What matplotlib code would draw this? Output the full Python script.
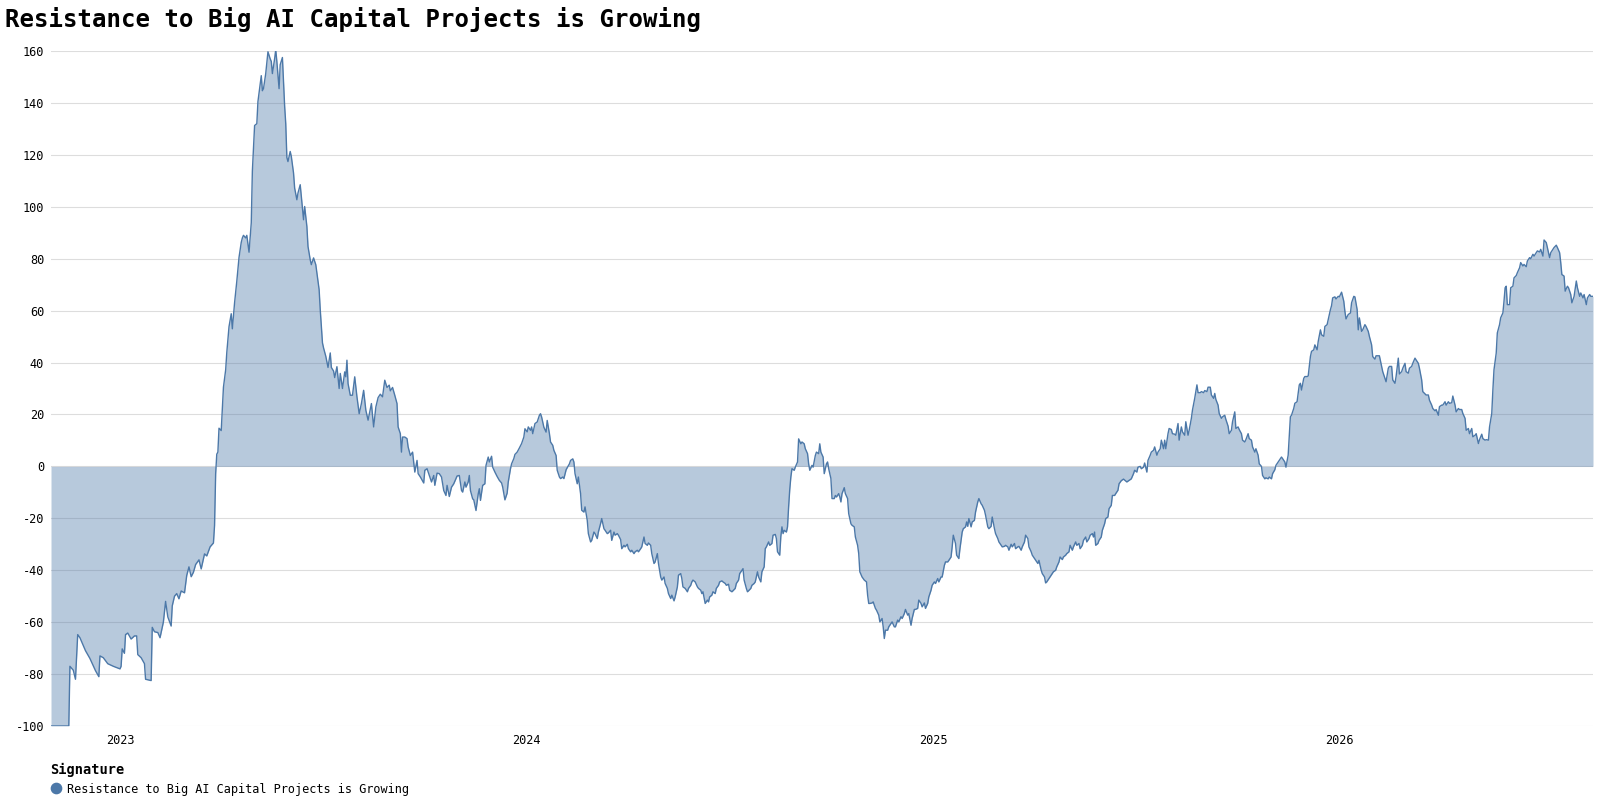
import matplotlib
matplotlib.use("Agg")
import matplotlib.pyplot as plt
from matplotlib.lines import Line2D
import numpy as np
import pandas as pd

# ---------------- data ----------------
title = "Resistance to Big AI Capital Projects is Growing"
series_name = "Resistance to Big AI Capital Projects is Growing"
legend_title = "Signature"
start_date = "2022-10-31"          # day 0 of the series
last_day = 1386                    # right edge of the time axis (days after start)
year_ticks = ["2023-01-01", "2024-01-01", "2025-01-01", "2026-01-01"]
year_labels = ["2023", "2024", "2025", "2026"]
y_ticks = [-100, -80, -60, -40, -20, 0, 20, 40, 60, 80, 100, 120, 140, 160]

# (days after start_date, value)
points_2022_2023a = [
    (0, -100), (16, -100), (17, -77), (20, -78.5), (22, -82), (24, -64.8), (26, -66), (31, -71),
    (35, -74), (40, -78.7), (43, -81), (44, -73), (47, -73.7), (51, -76), (56, -77), (62, -78),
    (63, -77), (64, -70.3), (66, -72), (67, -64.8), (69, -64.2), (72, -66.5), (75, -65.3),
    (77, -65.3), (78, -72.5), (81, -73.7), (84, -76), (85, -82), (90, -82.5), (91, -62),
    (93, -63.7), (96, -64), (98, -66), (101, -60), (103, -52), (105, -58), (108, -61.5),
    (109, -53.7), (111, -50), (113, -49), (115, -51), (117, -48), (120, -48.7), (122, -42),
    (124, -38.7), (126, -42.5), (128, -40.8), (130, -37.8), (133, -36), (135, -39.5),
    (138, -33.7), (140, -34.5), (143, -31), (146, -29.5), (147, -22.8), (148, -2.8), (149, 4.7),
    (150, 5.5), (151, 14.7), (153, 13.8), (155, 30.5), (157, 37.2), (158, 43.8), (160, 53.8),
    (162, 58.8), (163, 53), (165, 63), (167, 71.3), (169, 80.5), (171, 86.3), (172, 88),
    (173, 89), (175, 88), (176, 89), (178, 82.5), (180, 93.8), (181, 113.8), (183, 131.3),
    (185, 132), (186, 140.5), (188, 147), (189, 150.5), (190, 144.7), (191, 145.5), (193, 151.3),
    (195, 159.7), (197, 157), (198, 156), (199, 151.3), (201, 157), (202, 160.5), (203, 156),
    (205, 145.5), (206, 154.7), (208, 157.5), (210, 138.8), (211, 132), (212, 119), (213, 117.4),
    (215, 121.3), (216, 119.4), (218, 113), (219, 107.2), (221, 102.7), (222, 105.3),
    (224, 108.5), (225, 104), (227, 95), (228, 100.1), (230, 92.4), (231, 84.7), (233, 79.6),
    (234, 77.7), (236, 80.3), (237, 79), (238, 77.7), (239, 74.5), (241, 68.1), (242, 60.4),
    (244, 47.6), (245, 45.6), (247, 42.4), (249, 38.1), (251, 43.7), (252, 38.1), (254, 36.7),
]

points_2023b = [
    (255, 34.2), (257, 38.4), (259, 30), (260, 35.8), (262, 30), (264, 36.4), (265, 34.5),
    (266, 40.9), (267, 31.9), (269, 27.4), (271, 27.4), (273, 34.5), (275, 26.8), (277, 20.3),
    (279, 24.2), (281, 29.3), (283, 21.6), (285, 17.8), (288, 24.2), (290, 15.2), (292, 22.9),
    (294, 26.5), (296, 27.8), (298, 26.8), (300, 33.2), (302, 30.4), (304, 31.3), (305, 29.1),
    (307, 30.4), (309, 27.4), (311, 24.2), (312, 15.2), (314, 12.6), (315, 5.5), (316, 11.3),
    (318, 11.3), (320, 10.7), (321, 7.5), (323, 4.2), (325, 5.5), (327, -2.2), (329, 2.3),
    (330, -2.8), (332, -4.1), (335, -6.4), (336, -1.5), (338, -0.9), (341, -4.8), (342, -6),
    (344, -3.5), (345, -7.3), (347, -2.6), (349, -2.8), (351, -4.1), (353, -9.3), (355, -11.2),
    (356, -7.3), (358, -11.6), (360, -8), (362, -6.7), (365, -3.7), (367, -3.5), (369, -9.3),
    (370, -9.9), (372, -6), (373, -8), (375, -6), (376, -3.5), (377, -9.3), (379, -12.5),
    (380, -12.9), (382, -17), (384, -10.6), (385, -8.6), (386, -13.1), (388, -7.3), (390, -6.7),
    (391, 0.4), (393, 3.6), (394, 1.7), (396, 3.9), (397, -0.3), (399, -2.2), (401, -3.9),
    (403, -5.4), (405, -6.4), (406, -8), (408, -12.9), (410, -10.3), (411, -6), (413, -0.9),
    (414, 1), (416, 3), (417, 4.6), (419, 5.5), (421, 7.1), (423, 8.8), (425, 11.3), (426, 14.5),
    (428, 13.3), (429, 15.2), (431, 13.9), (432, 15.2), (433, 12.6), (435, 16.5), (437, 17.1),
    (439, 19.7),
]

points_2024 = [
    (440, 20.3), (441, 19), (443, 15.1), (445, 13.2), (446, 17.7), (448, 12.6), (449, 9.4),
    (451, 8.1), (452, 6.2), (454, 4.2), (455, -1.5), (457, -4.1), (458, -4.7), (460, -4.1),
    (461, -4.7), (463, -1.3), (464, -0.5), (466, 1), (467, 2.3), (469, 2.9), (470, 1.7),
    (471, -2.8), (473, -6.7), (474, -4.1), (476, -10.5), (477, -16.9), (479, -17.6), (480, -15.6),
    (482, -20.8), (483, -25.9), (485, -29.1), (486, -28.5), (488, -25.3), (489, -25.9),
    (491, -27.8), (492, -25.3), (494, -22), (495, -20.1), (497, -24), (498, -24.6), (500, -25.9),
    (501, -25.6), (503, -24.6), (504, -28.5), (506, -25.3), (507, -26.5), (509, -25.9),
    (510, -26.5), (512, -28.2), (513, -31.7), (515, -30.4), (516, -31), (518, -30), (519, -31.7),
    (521, -32.9), (522, -32.3), (524, -33.6), (525, -32.9), (527, -32.3), (528, -32.9),
    (530, -31.7), (531, -31), (533, -27.2), (534, -29.7), (536, -30.4), (537, -29.5),
    (539, -30.4), (540, -33.6), (542, -37.4), (543, -36.8), (545, -33.6), (546, -37.4),
    (548, -42.6), (549, -43.8), (551, -42.6), (552, -45.1), (554, -47), (555, -49), (557, -50.9),
    (558, -49.6), (560, -51.8), (561, -50.3), (563, -46.4), (564, -41.9), (566, -41.3),
    (567, -43.2), (568, -46.4), (570, -47), (572, -48.3), (573, -47), (575, -45.8), (576, -44.5),
    (577, -43.8), (579, -44.5), (581, -46.4), (582, -47), (584, -47.7), (585, -49), (586, -48.3),
    (588, -52.8), (590, -51.5), (591, -52.2), (592, -50.3), (594, -49.6), (595, -48.3),
    (597, -49), (598, -47), (600, -45.8), (601, -44.5), (603, -44.1), (604, -44.5), (606, -45.1),
    (607, -45.8), (609, -45.4), (610, -47.7), (612, -48.3), (613, -47.9), (615, -47),
    (616, -45.1), (618, -43.8), (619, -41.3), (621, -40), (622, -39.4), (623, -43.8), (625, -47),
    (626, -48.3), (627, -47.9), (629, -47), (630, -45.8), (632, -45.1), (633, -44.5),
    (635, -40.6), (636, -42.6), (638, -44.5), (639, -40.6), (641, -38.7), (642, -31.7),
    (643, -31), (645, -29.1), (646, -30.4), (648, -29.7), (649, -26.5), (651, -26.2),
    (652, -27.8), (653, -32.9), (655, -34.2), (656, -27), (657, -23.3), (658, -25.9),
    (659, -24.6), (661, -25.3), (662, -23.3), (663, -15.6), (664, -9), (665, -4.1), (666, -0.9),
    (668, -1.5), (669, -0.3), (671, 1.7), (672, 10.6), (674, 8.7), (675, 9.4), (677, 8.7),
    (678, 6.8), (680, 4.9), (681, 1), (682, -1.5), (684, 0.4), (685, -0.3), (687, 4.2),
    (688, 5.5), (690, 4.9), (691, 8.7), (692, 5.5), (694, 3.6), (695, -2.8), (697, 1), (698, 1.7),
    (699, -0.9), (701, -4.7), (702, -12.4), (704, -12.4), (705, -11.2), (706, -11.8),
    (708, -10.5), (709, -11.8), (710, -13.7), (711, -10.5), (713, -8.2), (714, -10.5),
    (716, -12.4), (717, -18.2), (719, -22.1), (720, -22.7), (722, -23.3), (723, -27.2),
    (725, -30.4), (726, -33.6), (727, -40.6), (729, -42.6), (731, -43.8), (733, -44.5),
    (734, -49.6), (735, -52.8), (736, -52.8), (738, -52.6), (739, -52.2), (741, -54.7),
    (742, -55.4), (744, -57.3), (745, -59.9), (747, -58.6), (748, -61.8), (749, -66.3),
    (750, -63.1), (752, -63.1), (753, -61.8), (755, -60.5), (756, -59.9), (758, -61.8),
    (759, -61.8), (761, -59.2), (762, -59.9), (764, -57.9), (765, -58.6), (767, -56.7),
    (768, -55.1), (770, -57.3), (771, -56.7), (773, -61.2), (774, -58.6), (776, -55.1),
    (777, -55.1), (779, -54.7), (780, -51.5), (782, -52.8), (783, -54.1), (785, -52.6),
    (786, -54.7), (788, -52.8), (789, -50.3), (791, -47.7), (792, -45.8),
]

points_2025 = [
    (794, -44.5), (795, -45.1), (797, -43.2), (798, -44.5), (800, -42.6), (801, -42.6),
    (803, -38.1), (804, -36.8), (806, -36.8), (807, -36.2), (809, -34.9), (810, -31),
    (811, -26.5), (813, -29.7), (814, -34.2), (816, -35.5), (817, -31.7), (819, -25.3),
    (820, -24), (822, -23.3), (823, -21.4), (824, -23.1), (825, -20.1), (827, -23.3),
    (828, -21.4), (830, -20.8), (831, -17.6), (833, -13.7), (834, -12.4), (836, -14.4),
    (837, -15), (839, -16.9), (840, -18.8), (842, -23.3), (843, -24), (845, -23.1), (846, -19.5),
    (848, -24), (849, -25.9), (851, -27.8), (852, -29.1), (854, -30.4), (855, -31), (857, -30.8),
    (858, -30.4), (860, -31), (861, -32.3), (863, -30), (864, -31), (866, -29.7), (867, -31.7),
    (869, -31), (870, -30.8), (872, -32.3), (873, -31), (875, -29.1), (876, -26.5), (878, -27.8),
    (879, -31), (881, -32.9), (882, -34.2), (884, -35.5), (885, -36.2), (887, -37.4),
    (888, -36.2), (890, -40), (891, -41.3), (893, -42.6), (894, -44.9), (895, -44.5),
    (897, -43.2), (898, -42.6), (900, -41.3), (901, -40.6), (903, -40), (904, -38.7),
    (906, -36.8), (907, -34.9), (909, -35.9), (910, -34.9), (912, -34.2), (913, -33.6),
    (915, -32.9), (916, -30.4), (918, -32.3), (919, -31), (921, -29.1), (922, -30.4),
    (924, -29.7), (925, -31.7), (927, -30.4), (928, -28.5), (930, -27.2), (931, -29.1),
    (933, -27.8), (934, -26.5), (936, -25.9), (937, -27.2), (938, -25.3), (939, -30.4),
    (941, -29.7), (942, -28.5), (944, -27.2), (945, -24.6), (947, -22.1), (948, -20.1),
    (950, -19.5), (951, -16.3), (953, -15), (954, -11.2), (956, -11.2), (957, -10.5), (959, -9.2),
    (960, -6.7), (962, -5.5), (964, -4.9), (967, -6), (971, -4.8), (973, -2.8), (974, -1.5),
    (976, -2.2), (977, -0.3), (979, 0), (980, -0.9), (982, -0.3), (983, 1.3), (985, -2.2),
    (986, 2.3), (988, 4.3), (989, 5.5), (991, 6.2), (992, 7.5), (994, 4.3), (995, 5.5),
    (997, 6.8), (998, 10.1), (1000, 6.8), (1001, 10.1), (1002, 6.8), (1004, 12.6), (1005, 14.6),
    (1007, 14.2), (1008, 12.6), (1010, 12.4), (1011, 12), (1013, 16.5), (1014, 10.1),
    (1016, 15.2), (1017, 13.3), (1019, 12), (1020, 17.2), (1022, 12), (1023, 13.9), (1025, 18.5),
    (1026, 21.7), (1028, 26.2), (1029, 28.8), (1030, 31.4), (1031, 28.4), (1033, 28.4),
    (1034, 28.8), (1036, 28.4), (1037, 29.2), (1039, 28.8), (1040, 30.5), (1042, 30.5),
    (1043, 27.5), (1045, 26.2), (1046, 28.1), (1047, 25.8), (1049, 23.6), (1050, 20.4),
    (1052, 18.5), (1053, 19.1), (1055, 19.7), (1056, 18.1), (1058, 15.5), (1059, 12.6),
    (1061, 13.9), (1062, 17.2), (1064, 21), (1065, 14.6), (1067, 15.2), (1068, 14.2),
    (1070, 12.6), (1071, 10.1), (1073, 9.4), (1074, 10.3), (1076, 12.6), (1077, 10.7),
    (1079, 10.1), (1080, 7.5), (1082, 5.5), (1083, 6.8), (1085, 4.3), (1086, 1), (1088, 0),
    (1089, -3.5), (1091, -4.8), (1092, -4.4), (1094, -4.8), (1095, -4.1), (1097, -4.8),
    (1098, -2.8), (1100, -1.3), (1101, 0.4), (1103, 1.7), (1104, 2.3), (1106, 3.6), (1107, 3),
    (1109, 1.7), (1110, -0.3), (1112, 4.3), (1113, 11.4), (1114, 19.1), (1115, 19.7),
    (1117, 22.3), (1118, 24.3), (1120, 24.9), (1121, 28.1), (1122, 31.4), (1123, 32),
    (1124, 29.4), (1126, 33.9), (1127, 34.6), (1129, 34.6), (1130, 34.8), (1132, 42.3),
    (1133, 44.3), (1135, 44.9), (1136, 46.8), (1138, 44.9), (1139, 48.1), (1141, 52.6),
    (1142, 50.7), (1144, 50.1), (1145, 53.9), (1147, 54.6), (1148, 56.5), (1150, 60.4),
    (1151, 61.9), (1152, 64.9), (1154, 65.3), (1155, 64.5), (1157, 65.5), (1158, 65.3),
    (1160, 67.1), (1162, 63.6), (1163, 59.7), (1164, 56.8), (1166, 58.5), (1168, 59.1),
    (1169, 63), (1171, 65.5), (1172, 65.3), (1174, 60.4), (1175, 52.6), (1176, 57.2),
    (1178, 52), (1179, 52.6),
]

points_2026 = [
    (1181, 54.6), (1182, 53.9), (1184, 52), (1185, 50.1), (1187, 46.8), (1188, 42.3),
    (1190, 41.3), (1191, 42.6), (1193, 42.6), (1194, 42.6), (1196, 38.5), (1197, 36.5),
    (1199, 33.9), (1200, 32.6), (1202, 37.8), (1203, 38.5), (1205, 38.5), (1206, 33.3),
    (1208, 32), (1209, 34.6), (1211, 41.7), (1212, 35.6), (1214, 36.5), (1215, 37.8),
    (1217, 39.7), (1218, 36.5), (1220, 35.9), (1221, 37.8), (1223, 38.5), (1224, 39.7),
    (1226, 41.7), (1227, 41), (1229, 39.7), (1230, 37.8), (1232, 33.3), (1233, 28.8),
    (1235, 27.9), (1236, 27.5), (1238, 27.5), (1239, 25.5), (1241, 23.6), (1242, 22.3),
    (1244, 21.4), (1245, 21.9), (1247, 19.7), (1248, 23), (1250, 23.6), (1251, 23.6),
    (1253, 24.9), (1254, 23.6), (1256, 24.9), (1257, 24.3), (1259, 24.5), (1260, 27.1),
    (1262, 23.6), (1263, 21), (1265, 22.3), (1266, 21.9), (1268, 21.9), (1269, 20.4),
    (1271, 18.5), (1272, 13.9), (1274, 14.6), (1275, 12.6), (1277, 14.6), (1278, 11.4),
    (1280, 12), (1281, 12.6), (1283, 8.8), (1284, 10.3), (1286, 12.4), (1287, 10.7),
    (1289, 10.1), (1290, 10.3), (1292, 10.1), (1293, 15.2), (1295, 20.4), (1296, 29.4),
    (1297, 37.2), (1299, 43.6), (1300, 51.4), (1302, 54.6), (1303, 57.2), (1305, 59.1),
    (1306, 63.6), (1307, 68.8), (1308, 69.4), (1309, 62.3), (1311, 62.3), (1312, 68.8),
    (1314, 69.4), (1315, 72.6), (1317, 73.5), (1318, 74.6), (1320, 76.5), (1321, 78.5),
    (1323, 77.2), (1324, 77.8), (1326, 76.9), (1327, 79.1), (1329, 80.4), (1330, 80),
    (1332, 81.7), (1333, 81), (1335, 82.3), (1336, 83), (1338, 82.6), (1339, 83.6), (1341, 81),
    (1342, 87.2), (1344, 86.2), (1345, 84.3), (1347, 80.4), (1348, 82.3), (1350, 83.6),
    (1351, 84.3), (1353, 85.2), (1354, 84.3), (1356, 82.3), (1357, 78.5), (1358, 73.9),
    (1360, 73.3), (1361, 67.5), (1363, 69.4), (1364, 68.8), (1366, 66.2), (1367, 63),
    (1369, 65.5), (1371, 71.4), (1372, 68.8), (1374, 65.5), (1375, 66.8), (1377, 64.9),
    (1378, 66.2), (1380, 62.3), (1381, 64.9), (1383, 66.2), (1384, 65.5), (1386, 65.5),
]

# ---------------- build series ----------------
all_points = points_2022_2023a + points_2023b + points_2024 + points_2025 + points_2026
days = np.array([p[0] for p in all_points], dtype=float)
values = np.array([p[1] for p in all_points], dtype=float)
start = pd.Timestamp(start_date)
dates = (start + pd.to_timedelta(days, unit="D")).to_numpy()

# ---------------- styling ----------------
plt.rcParams["axes.unicode_minus"] = False
mono = ["DejaVu Sans Mono"]
blue = "#4c78a8"

fig = plt.figure(figsize=(16, 8), dpi=100)
ax = fig.add_axes([51 / 1600, 1 - 726 / 800, (1593 - 51) / 1600, (726 - 51) / 800])

ax.fill_between(dates, values, 0, color=blue, alpha=0.4, linewidth=0, interpolate=True, zorder=2)
ax.plot(dates, values, color=blue, linewidth=1.0, zorder=3)

ax.set_ylim(-100, 160)
ax.set_xlim(start, start + pd.Timedelta(days=last_day))
ax.set_yticks(y_ticks)
ax.set_yticklabels([str(v) for v in y_ticks], family=mono, fontsize=8.6, color="#000000")
ax.set_xticks([pd.Timestamp(d) for d in year_ticks])
ax.set_xticklabels(year_labels, family=mono, fontsize=8.6, color="#000000")
ax.tick_params(axis="both", length=0)
ax.tick_params(axis="y", pad=5)
ax.tick_params(axis="x", pad=6)

ax.grid(axis="y", color="#dddddd", linewidth=0.8)
ax.grid(axis="x", visible=False)
ax.set_axisbelow(True)
for s in ax.spines.values():
    s.set_visible(False)

fig.text(5 / 1600, 1 - 27.5 / 800, title, ha="left", va="baseline",
         family=mono, fontsize=17.3, fontweight="bold", color="#000000")

handle = Line2D([], [], marker="o", linestyle="", color=blue, markersize=7.4)
leg = fig.legend([handle], [series_name], loc="upper left",
                 bbox_to_anchor=(50 / 1600, 1 - 763 / 800), frameon=False,
                 title=legend_title, alignment="left",
                 prop={"family": mono, "size": 8.6},
                 title_fontproperties={"family": mono, "size": 9.8, "weight": "bold"},
                 handlelength=1.0, handletextpad=0.45, borderpad=0, borderaxespad=0,
                 labelspacing=0.45)

fig.savefig("out.png", dpi=100)
